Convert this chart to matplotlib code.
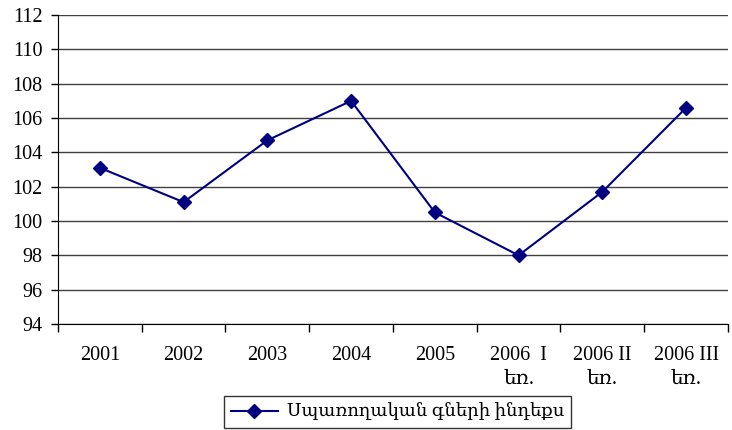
import numpy as np
import matplotlib.pyplot as plt

categories = ['2001', '2002', '2003', '2004', '2005', '2006  I\nեռ.', '2006 II\nեռ.', '2006 III\nեռ.']
values = [103.1, 101.1, 104.7, 107.0, 100.5, 98.0, 101.7, 106.6]
series_name = 'Սպառողական գների ինդեքս'

plt.rcParams['font.family'] = ['Liberation Serif', 'DejaVu Serif']
plt.rcParams['font.size'] = 14.5

fig = plt.figure(figsize=(7.32, 4.30), dpi=100)
ax = fig.add_axes([0.0792, 0.2465, 0.9153, 0.7185])

x = np.arange(len(categories))
ax.plot(x, values, color='#000080', lw=1.5, marker='D', markersize=7.5,
        label=series_name)

ax.set_ylim(94, 112)
ax.set_yticks(np.arange(94, 113, 2))
ax.set_xlim(-0.5, len(categories) - 0.5)
ax.set_xticks(np.arange(-0.5, len(categories)), labels=[''] * (len(categories) + 1))
ax.set_xticks(x, labels=categories, minor=True)
ax.tick_params(axis='x', which='major', length=6, width=1, color='black')
ax.tick_params(axis='x', which='minor', length=0, pad=16)
ax.tick_params(axis='y', length=5, width=1, pad=6)
for lab in ax.get_xticklabels(minor=True):
    lab.set_linespacing(1.35)

ax.grid(axis='y', color='#404040', lw=1)
ax.set_axisbelow(True)
for s in ['top', 'right']:
    ax.spines[s].set_visible(False)
ax.spines['left'].set_color('black')
ax.spines['bottom'].set_color('black')

leg = ax.legend(loc='upper center', bbox_to_anchor=(0.507, -0.234), frameon=True,
                fancybox=False, edgecolor='black', handlelength=2.6, borderpad=0.38,
                borderaxespad=0, fontsize=13, handletextpad=0.5)
leg.get_frame().set_linewidth(1)

fig.savefig('out.png', dpi=100)
